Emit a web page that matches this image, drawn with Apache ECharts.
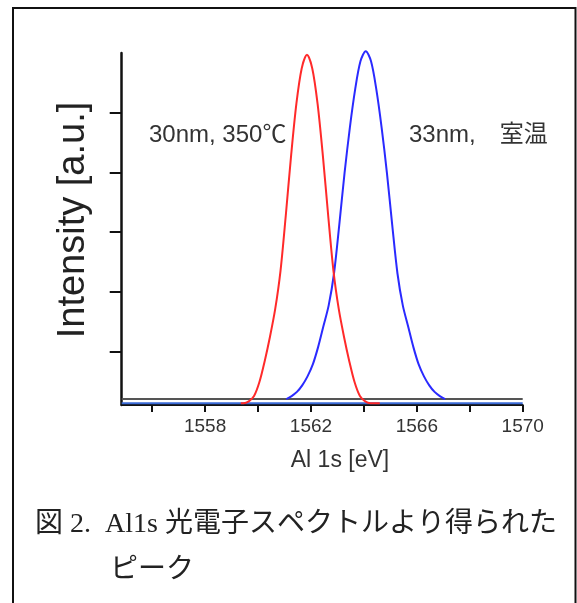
<!DOCTYPE html>
<html>
<head>
<meta charset="utf-8">
<script src="https://cdn.jsdelivr.net/npm/echarts@6/dist/echarts.min.js"></script>
<style>
html,body{margin:0;padding:0;background:#fff;}
#chart{width:577px;height:603px;}
</style>
</head>
<body>
<div id="chart"></div>
<script>
// ---- data ----
var redEnergy = [1559.35,1559.45,1559.65,1559.85,1560.05,1560.25,1560.45,1560.65,1560.85,1561.05,1561.25,1561.45,1561.65,1561.85,1562.05,1562.25,1562.45,1562.65,1562.85,1563.05,1563.25,1563.45,1563.65,1563.85,1564.05,1564.25,1564.6];
var redIntensity = [0.03,0.03,0.06,0.15,0.38,0.73,1.14,1.61,2.25,3.18,4.18,5.05,5.64,5.87,5.64,5.05,4.18,3.18,2.25,1.61,1.14,0.73,0.38,0.15,0.06,0.03,0.03];
var blueEnergy = [1561.07,1561.27,1561.47,1561.67,1561.87,1562.07,1562.27,1562.47,1562.67,1562.87,1563.07,1563.27,1563.47,1563.67,1563.87,1564.07,1564.27,1564.47,1564.67,1564.87,1565.07,1565.27,1565.47,1565.67,1565.87,1566.07,1566.27,1566.47,1566.67,1566.87,1567.07];
var blueIntensity = [0.10,0.15,0.22,0.33,0.48,0.68,0.97,1.32,1.67,2.20,3.02,3.89,4.65,5.29,5.76,5.93,5.76,5.29,4.65,3.89,3.02,2.20,1.67,1.32,0.97,0.68,0.48,0.33,0.22,0.15,0.10];
var blueBaseline = 0.10;   // grey full-range baseline
var redBaseline = 0.03;    // blue full-range baseline
var xMin = 1554.85, xMax = 1570;
var xTickValues = [1556,1558,1560,1562,1564,1566,1568,1570];
var xLabelValues = [1558,1562,1566,1570];
var yTickValues = [0.9,1.9,2.9,3.9,4.9];
var label1 = '30nm, 350\u2103';
var label2 = '33nm,\u3000室温';
var xTitle = 'Al 1s [eV]';
var yTitle = 'Intensity [a.u.]';
var caption1 = '図 2.  Al1s 光電子スペクトルより得られた';
var caption2 = 'ピーク';

function zip(a, b) { return a.map(function (v, i) { return [v, b[i]]; }); }

var chart = echarts.init(document.getElementById('chart'), null, {renderer: 'canvas'});
var sans = '"Liberation Sans", Arial, "Noto Sans CJK JP", sans-serif';
var serif = '"Liberation Serif", "Times New Roman", "Noto Sans CJK JP", serif';

chart.setOption({
  animation: false,
  backgroundColor: '#fff',
  grid: {left: 121.7, right: 54.3, top: 53, bottom: 198, containLabel: false},
  xAxis: {
    type: 'value', min: xMin, max: xMax,
    axisLine: {show: true, onZero: false, lineStyle: {color: '#111', width: 2}},
    axisTick: {show: true, inside: false, length: 7, customValues: xTickValues, lineStyle: {color: '#111', width: 2}},
    axisLabel: {customValues: xLabelValues, color: '#333', fontSize: 19, fontFamily: sans, margin: 12,
                formatter: function (v) { return String(v); }},
    splitLine: {show: false}
  },
  yAxis: {
    type: 'value', min: 0, max: 5.9,
    axisLine: {show: true, lineStyle: {color: '#111', width: 2.5}},
    axisTick: {show: true, length: 12, customValues: yTickValues, lineStyle: {color: '#111', width: 2}},
    axisLabel: {show: false},
    splitLine: {show: false}
  },
  series: [
    {type: 'line', data: [[xMin, blueBaseline], [xMax, blueBaseline]], symbol: 'none',
     lineStyle: {color: '#555', width: 2}, z: 1},
    {type: 'line', data: [[xMin, redBaseline], [xMax, redBaseline]], symbol: 'none',
     lineStyle: {color: '#3a6ad6', width: 2}, z: 1},
    {type: 'line', data: zip(redEnergy, redIntensity), symbol: 'none', smooth: 0.3, clip: false,
     lineStyle: {color: '#ff2a2a', width: 2}, z: 3},
    {type: 'line', data: zip(blueEnergy, blueIntensity), symbol: 'none', smooth: 0.3, clip: false,
     lineStyle: {color: '#2a2aff', width: 2}, z: 2}
  ],
  graphic: [
    {type: 'rect', shape: {x: 13, y: 8, width: 562.5, height: 620}, style: {fill: 'none', stroke: '#111', lineWidth: 2}, silent: true},
    {type: 'text', x: 74, y: 220, rotation: Math.PI / 2,
     style: {text: yTitle, fill: '#222', font: '38px ' + sans, textAlign: 'center', textVerticalAlign: 'middle'}},
    {type: 'text', x: 340, y: 461,
     style: {text: xTitle, fill: '#333', font: '23px ' + sans, textAlign: 'center', textVerticalAlign: 'middle'}},
    {type: 'text', x: 149, y: 135, style: {text: label1, fill: '#333', font: '24px ' + sans, textVerticalAlign: 'middle'}},
    {type: 'text', x: 409, y: 135, style: {text: label2, fill: '#333', font: '24px ' + sans, textVerticalAlign: 'middle'}},
    {type: 'text', x: 35, y: 525, style: {text: caption1, fill: '#222', font: '28px ' + serif, textVerticalAlign: 'middle'}},
    {type: 'text', x: 110, y: 571, style: {text: caption2, fill: '#222', font: '28px ' + serif, textVerticalAlign: 'middle'}}
  ]
});
</script>
</body>
</html>
